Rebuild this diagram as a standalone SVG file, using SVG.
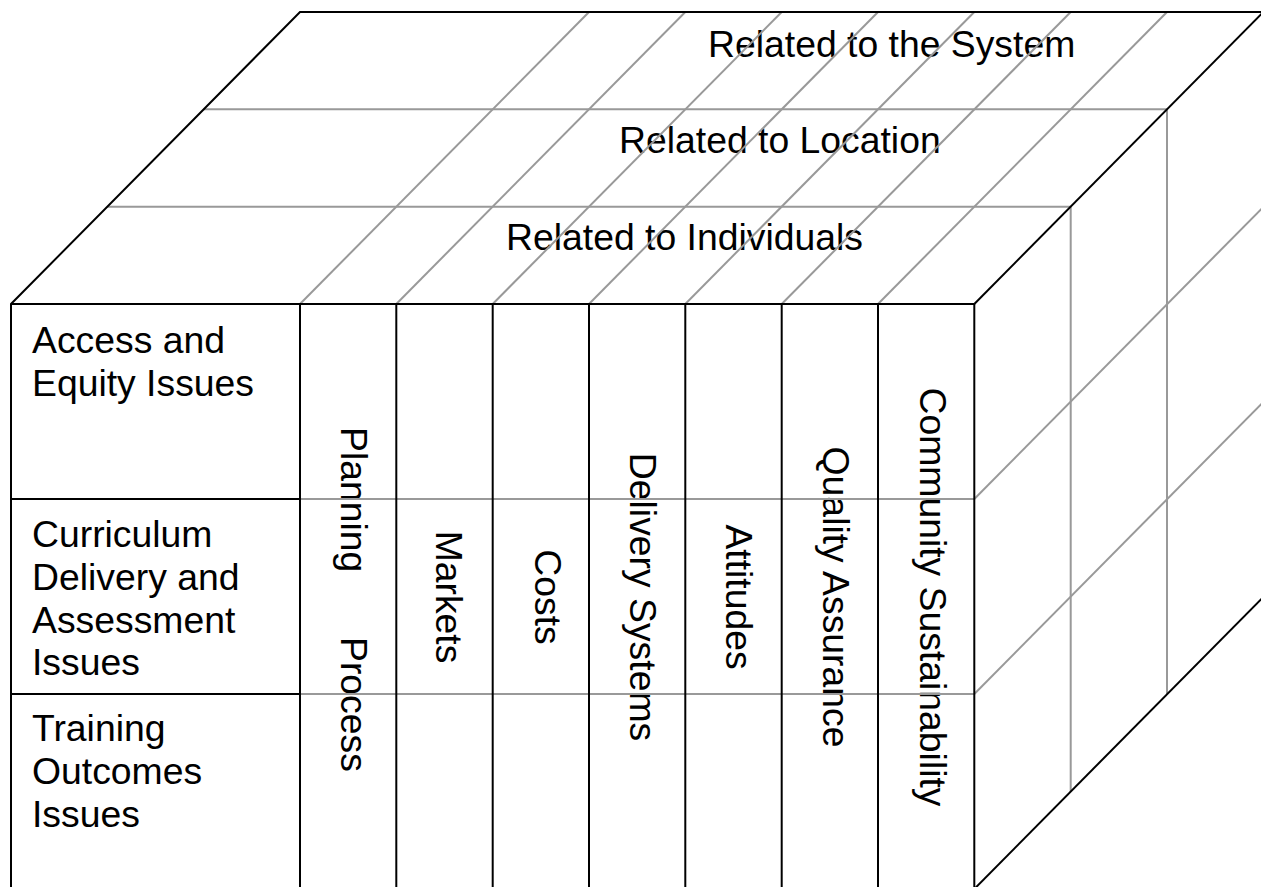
<svg xmlns="http://www.w3.org/2000/svg" width="1261" height="887" viewBox="0 0 1261 887">
<style>
text{font-family:"Liberation Sans",Arial,sans-serif;font-size:37.33px;fill:#000}
.k{stroke:#000;stroke-width:2;fill:none}
.g{stroke:#999;stroke-width:2;fill:none}
.v{text-anchor:middle}
</style>
<rect width="1261" height="887" fill="#fff"/>
<g id="labels-top">
<text x="708" y="57">Related to the System</text>
<text x="619" y="153">Related to Location</text>
<text x="506" y="250">Related to Individuals</text>
</g>
<g id="labels-rows">
<text x="32" y="353">Access and</text>
<text x="32" y="396">Equity Issues</text>
<text x="32" y="547">Curriculum</text>
<text x="32" y="590">Delivery and</text>
<text x="32" y="633">Assessment</text>
<text x="32" y="675">Issues</text>
<text x="32" y="741">Training</text>
<text x="32" y="784">Outcomes</text>
<text x="32" y="827">Issues</text>
</g>
<g id="labels-columns">
<text transform="translate(341,427) rotate(90)">Planning</text>
<text transform="translate(341,637) rotate(90)">Process</text>
<text class="v" transform="translate(436,597) rotate(90)">Markets</text>
<text class="v" transform="translate(535,597) rotate(90)">Costs</text>
<text class="v" transform="translate(630,597) rotate(90)">Delivery Systems</text>
<text class="v" transform="translate(726,597) rotate(90)">Attitudes</text>
<text class="v" transform="translate(823,597) rotate(90)">Quality Assurance</text>
<text class="v" transform="translate(920,597) rotate(90)">Community Sustainability</text>
</g>
<g id="connectors">
<!-- top face gray -->
<line class="g" x1="107.3" y1="206.7" x2="1070.7" y2="206.7"/>
<line class="g" x1="203.7" y1="109.3" x2="1167" y2="109.3"/>
<line class="g" x1="300" y1="304" x2="589" y2="12"/>
<line class="g" x1="396.3" y1="304" x2="685.3" y2="12"/>
<line class="g" x1="492.7" y1="304" x2="781.7" y2="12"/>
<line class="g" x1="589" y1="304" x2="878" y2="12"/>
<line class="g" x1="685.3" y1="304" x2="974.3" y2="12"/>
<line class="g" x1="781.7" y1="304" x2="1070.7" y2="12"/>
<line class="g" x1="878" y1="304" x2="1167" y2="12"/>
<!-- right face gray -->
<line class="g" x1="1070.7" y1="206.7" x2="1070.7" y2="791.7"/>
<line class="g" x1="1167" y1="109.3" x2="1167" y2="694.3"/>
<line class="g" x1="974.3" y1="499" x2="1263.3" y2="207"/>
<line class="g" x1="974.3" y1="694" x2="1263.3" y2="402"/>
<!-- front face gray row extensions -->
<line class="g" x1="300" y1="499" x2="974.3" y2="499"/>
<line class="g" x1="300" y1="694" x2="974.3" y2="694"/>
<!-- black outline -->
<polyline class="k" points="11,889 11,304 300,12 1263.3,12"/>
<line class="k" x1="11" y1="304" x2="974.3" y2="304"/>
<line class="k" x1="974.3" y1="304" x2="1263.3" y2="12"/>
<line class="k" x1="974.3" y1="889" x2="1263.3" y2="597"/>
<line class="k" x1="11" y1="499" x2="300" y2="499"/>
<line class="k" x1="11" y1="694" x2="300" y2="694"/>
<line class="k" x1="300" y1="304" x2="300" y2="889"/>
<line class="k" x1="396.3" y1="304" x2="396.3" y2="889"/>
<line class="k" x1="492.7" y1="304" x2="492.7" y2="889"/>
<line class="k" x1="589" y1="304" x2="589" y2="889"/>
<line class="k" x1="685.3" y1="304" x2="685.3" y2="889"/>
<line class="k" x1="781.7" y1="304" x2="781.7" y2="889"/>
<line class="k" x1="878" y1="304" x2="878" y2="889"/>
<line class="k" x1="974.3" y1="304" x2="974.3" y2="889"/>
</g>
</svg>
